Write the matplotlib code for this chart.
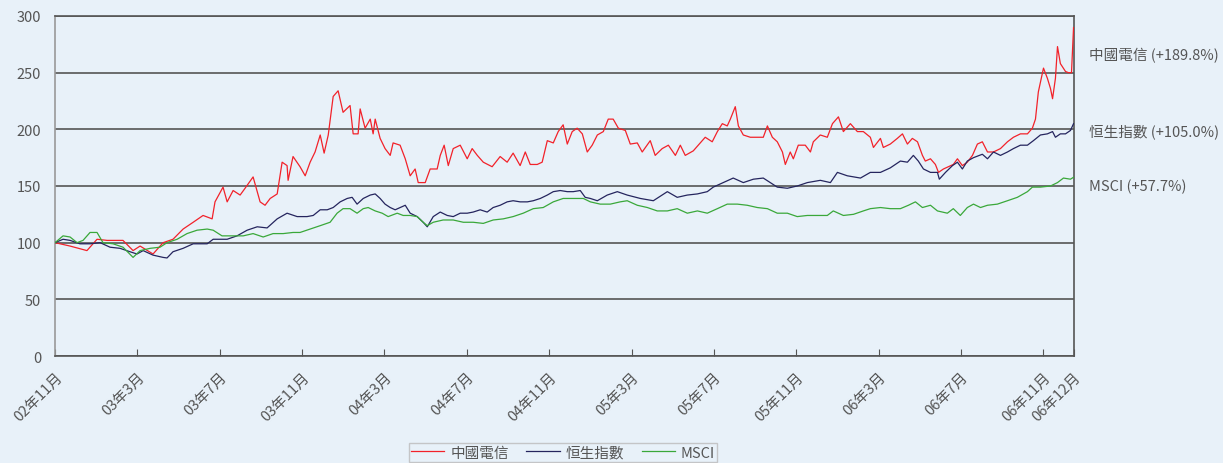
import matplotlib
matplotlib.use("Agg")
import matplotlib.pyplot as plt

plt.rcParams['font.family'] = ['Noto Sans CJK TC', 'DejaVu Sans']

# months since Nov 2002
tick_pos = [0, 4, 8, 12, 16, 20, 24, 28, 32, 36, 40, 44, 48, 49.47]
tick_labels = ["02年11月", "03年3月", "03年7月", "03年11月", "04年3月", "04年7月",
               "04年11月", "05年3月", "05年7月", "05年11月", "06年3月", "06年7月",
               "06年11月", "06年12月"]

ct_x = [0, 0.73, 1.55, 2.04, 2.53, 3.30, 3.79, 4.13, 4.76, 5.25, 5.73, 6.22, 6.71, 7.19,
        7.63, 7.77, 8.16, 8.36, 8.65, 8.99, 9.23, 9.62, 9.96, 10.20, 10.45, 10.79, 11.03,
        11.27, 11.32, 11.56, 11.90, 12.15, 12.39, 12.63, 12.88, 13.07, 13.27, 13.51, 13.75,
        13.99, 14.33, 14.48, 14.72, 14.82, 15.06, 15.31, 15.45, 15.55, 15.79, 16.03, 16.28,
        16.42, 16.76, 17.01, 17.25, 17.49, 17.64, 17.98, 18.22, 18.56, 18.71, 18.90, 19.10,
        19.34, 19.68, 20.02, 20.26, 20.51, 20.80, 21.23, 21.62, 21.96, 22.25, 22.59, 22.84,
        23.08, 23.42, 23.66, 23.91, 24.20, 24.44, 24.68, 24.88, 25.12, 25.36, 25.61, 25.85,
        26.09, 26.34, 26.63, 26.87, 27.11, 27.36, 27.70, 27.94, 28.28, 28.52, 28.91, 29.15,
        29.49, 29.79, 30.13, 30.37, 30.61, 31.00, 31.24, 31.58, 31.92, 32.17, 32.41, 32.65,
        32.80, 33.04, 33.19, 33.43, 33.77, 34.11, 34.40, 34.60, 34.84, 35.08, 35.33, 35.47,
        35.71, 35.86, 36.10, 36.44, 36.69, 36.83, 37.17, 37.51, 37.76, 38.05, 38.29, 38.63,
        38.97, 39.26, 39.60, 39.75, 40.09, 40.23, 40.57, 40.91, 41.16, 41.40, 41.64, 41.89,
        42.13, 42.27, 42.52, 42.76, 42.91, 43.15, 43.39, 43.63, 43.83, 44.07, 44.31, 44.56,
        44.80, 45.04, 45.29, 45.58, 45.92, 46.26, 46.55, 46.89, 47.23, 47.47, 47.62, 47.76,
        48.01, 48.20, 48.35, 48.45, 48.59, 48.69, 48.83, 49.08, 49.22, 49.37, 49.47]
ct_y = [100, 97, 93, 103, 102, 102, 93, 97, 90, 100, 103, 112, 118, 124,
        121, 136, 149, 136, 146, 142, 148, 158, 136, 133, 139, 143, 171,
        168, 155, 176, 167, 159, 171, 180, 195, 179, 195, 229, 234,
        215, 221, 196, 196, 218, 201, 209, 196, 209, 192, 183, 177,
        188, 186, 174, 159, 165, 153, 153, 165, 165, 177, 186, 168,
        183, 186, 174, 183, 177, 171, 167, 176, 171, 179, 168, 180,
        169, 169, 171, 190, 188, 198, 204, 187, 198, 201, 196, 180,
        186, 195, 198, 209, 209, 201, 199, 187, 188, 180, 190, 177,
        183, 186, 177, 186, 177, 181, 186, 193, 189, 198, 205, 203,
        209, 220, 203, 195, 193, 193, 193, 203, 193, 189, 180, 169,
        180, 174, 186, 186, 180, 189, 195, 193, 205, 211, 198, 205,
        198, 198, 193, 184, 192, 184, 187, 192, 196, 187, 192, 189,
        177, 172, 174, 169, 162, 165, 167, 169, 174, 168, 171, 177,
        187, 189, 180, 180, 183, 189, 193, 196, 196, 201, 209, 233,
        254, 245, 236, 227, 245, 273, 258, 251, 250, 250, 289.8]

hsi_x = [0, 0.39, 0.73, 1.21, 1.70, 2.19, 2.67, 3.16, 3.64, 3.98, 4.28, 4.76, 5.25, 5.44,
         5.73, 6.22, 6.71, 7.39, 7.68, 8.36, 8.84, 9.33, 9.82, 10.30, 10.79, 11.27, 11.76,
         12.24, 12.54, 12.88, 13.22, 13.51, 13.85, 14.19, 14.43, 14.67, 14.97, 15.31, 15.55,
         15.79, 16.03, 16.28, 16.52, 16.76, 17.01, 17.25, 17.59, 17.88, 18.08, 18.37, 18.71,
         19.05, 19.34, 19.68, 20.02, 20.31, 20.65, 20.99, 21.28, 21.62, 21.96, 22.25, 22.59,
         22.94, 23.23, 23.57, 23.91, 24.20, 24.54, 24.88, 25.17, 25.51, 25.75, 26.00, 26.34,
         26.82, 27.31, 27.79, 28.43, 29.06, 29.74, 30.22, 30.71, 31.20, 31.68, 31.97, 32.46,
         32.94, 33.43, 33.92, 34.40, 34.74, 35.08, 35.57, 36.05, 36.54, 37.17, 37.66, 38.00,
         38.48, 39.12, 39.60, 40.09, 40.57, 41.06, 41.40, 41.69, 41.93, 42.18, 42.52, 42.86,
         42.95, 43.25, 43.59, 43.83, 44.07, 44.31, 44.61, 45.04, 45.29, 45.58, 45.92, 46.26,
         46.55, 46.89, 47.23, 47.52, 47.86, 48.20, 48.45, 48.59, 48.83, 49.08, 49.32, 49.47]
hsi_y = [100, 103, 102, 99, 99, 100, 96, 95, 92, 90, 93, 89, 87, 86.5,
         92, 95, 99, 99, 103, 103, 106, 111, 114, 113, 121, 126, 123,
         123, 124, 129, 129, 131, 136, 139, 140, 134, 139, 142, 143,
         139, 134, 131, 129, 131, 133, 126, 123, 118, 114, 123, 127,
         124, 123, 126, 126, 127, 129, 127, 131, 133, 136, 137, 136,
         136, 137, 139, 142, 145, 146, 145, 145, 146, 140, 139, 137,
         142, 145, 142, 139, 137, 145, 140, 142, 143, 145, 149, 153,
         157, 153, 156, 157, 153, 149, 148, 150, 153, 155, 153, 162,
         159, 157, 162, 162, 166, 172, 171, 177, 172, 165, 162, 162,
         156, 162, 168, 171, 165, 172, 175, 178, 174, 180, 177, 180,
         183, 186, 186, 190, 195, 196, 198, 193, 196, 196, 199, 205]

msci_x = [0, 0.39, 0.73, 1.07, 1.36, 1.70, 2.04, 2.33, 2.82, 3.30, 3.79, 4.13, 4.62, 5.10,
          5.44, 5.93, 6.41, 6.90, 7.39, 7.68, 8.11, 8.65, 9.14, 9.62, 10.11, 10.59, 11.08,
          11.56, 11.90, 12.39, 12.88, 13.36, 13.70, 13.99, 14.33, 14.67, 14.97, 15.21, 15.55,
          15.89, 16.18, 16.62, 16.91, 17.25, 17.59, 17.88, 18.08, 18.37, 18.85, 19.34, 19.83,
          20.31, 20.80, 21.28, 21.77, 22.25, 22.74, 23.23, 23.71, 24.20, 24.68, 25.17, 25.66,
          26.00, 26.48, 26.97, 27.45, 27.79, 28.28, 28.77, 29.25, 29.74, 30.22, 30.71, 31.20,
          31.68, 32.17, 32.65, 33.14, 33.62, 34.11, 34.60, 35.08, 35.57, 36.05, 36.54, 37.03,
          37.51, 37.80, 38.29, 38.78, 39.26, 39.60, 40.09, 40.57, 41.06, 41.45, 41.79, 42.13,
          42.52, 42.86, 43.34, 43.63, 43.97, 44.31, 44.61, 44.95, 45.29, 45.77, 46.26, 46.74,
          47.23, 47.47, 47.86, 48.35, 48.69, 48.98, 49.32, 49.47]
msci_y = [100, 106, 105, 100, 102, 109, 109, 100, 99, 96, 87, 93, 95, 96,
          100, 103, 108, 111, 112, 111, 106, 106, 106, 108, 105, 108, 108,
          109, 109, 112, 115, 118, 126, 130, 130, 126, 130, 131, 128,
          126, 123, 126, 124, 124, 123, 118, 115, 118, 120, 120, 118,
          118, 117, 120, 121, 123, 126, 130, 131, 136, 139, 139, 139,
          136, 134, 134, 136, 137, 133, 131, 128, 128, 130, 126, 128,
          126, 130, 134, 134, 133, 131, 130, 126, 126, 123, 124, 124,
          124, 128, 124, 125, 128, 130, 131, 130, 130, 133, 136, 131,
          133, 128, 126, 130, 124, 131, 134, 131, 133, 134, 137, 140,
          145, 149, 149, 150, 153, 157, 156, 157.7]

bg = "#e8f1f9"
txt = "#555555"

fig = plt.figure(figsize=(12.23, 4.64), dpi=100, facecolor=bg)
ax = fig.add_axes([0.045, 0.2306, 0.8328, 0.7328], facecolor=bg)

ax.plot(ct_x, ct_y, color="#f2222a", lw=0.9, label="中國電信", zorder=3)
ax.plot(hsi_x, hsi_y, color="#25255e", lw=0.9, label="恒生指數", zorder=3)
ax.plot(msci_x, msci_y, color="#3aa83a", lw=0.9, label="MSCI", zorder=3)

ax.set_xlim(0, 49.47)
ax.set_ylim(0, 300)
ax.set_yticks(range(0, 301, 50))
ax.yaxis.grid(True, color="#555555", lw=1.2)
ax.set_axisbelow(True)
ax.tick_params(axis="y", length=0, labelsize=10.5, labelcolor=txt, pad=10)
ax.set_xticks(tick_pos)
ax.set_xticklabels(tick_labels, rotation=45, ha="right", va="top",
                   rotation_mode="anchor", fontsize=10.5, color=txt)
ax.tick_params(axis="x", direction="in", length=5, color="#555555", pad=10)
for side in ["left", "bottom", "right", "top"]:
    ax.spines[side].set_color("#555555")
    ax.spines[side].set_linewidth(1.2)
ax.spines["left"].set_color("#999999")

end_labels = [("中國電信 (+189.8%)", 266), ("恒生指數 (+105.0%)", 199), ("MSCI (+57.7%)", 150)]
for text, yv in end_labels:
    ax.text(1.015, yv, text, transform=ax.get_yaxis_transform(), va="center",
            ha="left", fontsize=10.5, color=txt)

fig.legend(loc="upper center", bbox_to_anchor=(0.4603, 0.058), ncol=3,
           frameon=True, fancybox=False, edgecolor="#bbbbbb", facecolor=bg,
           fontsize=10.5, handlelength=2.3, handletextpad=0.4, columnspacing=1.2,
           borderpad=0.15, labelcolor=txt)

fig.savefig("out.png", dpi=100, facecolor=bg)
plt.close(fig)
